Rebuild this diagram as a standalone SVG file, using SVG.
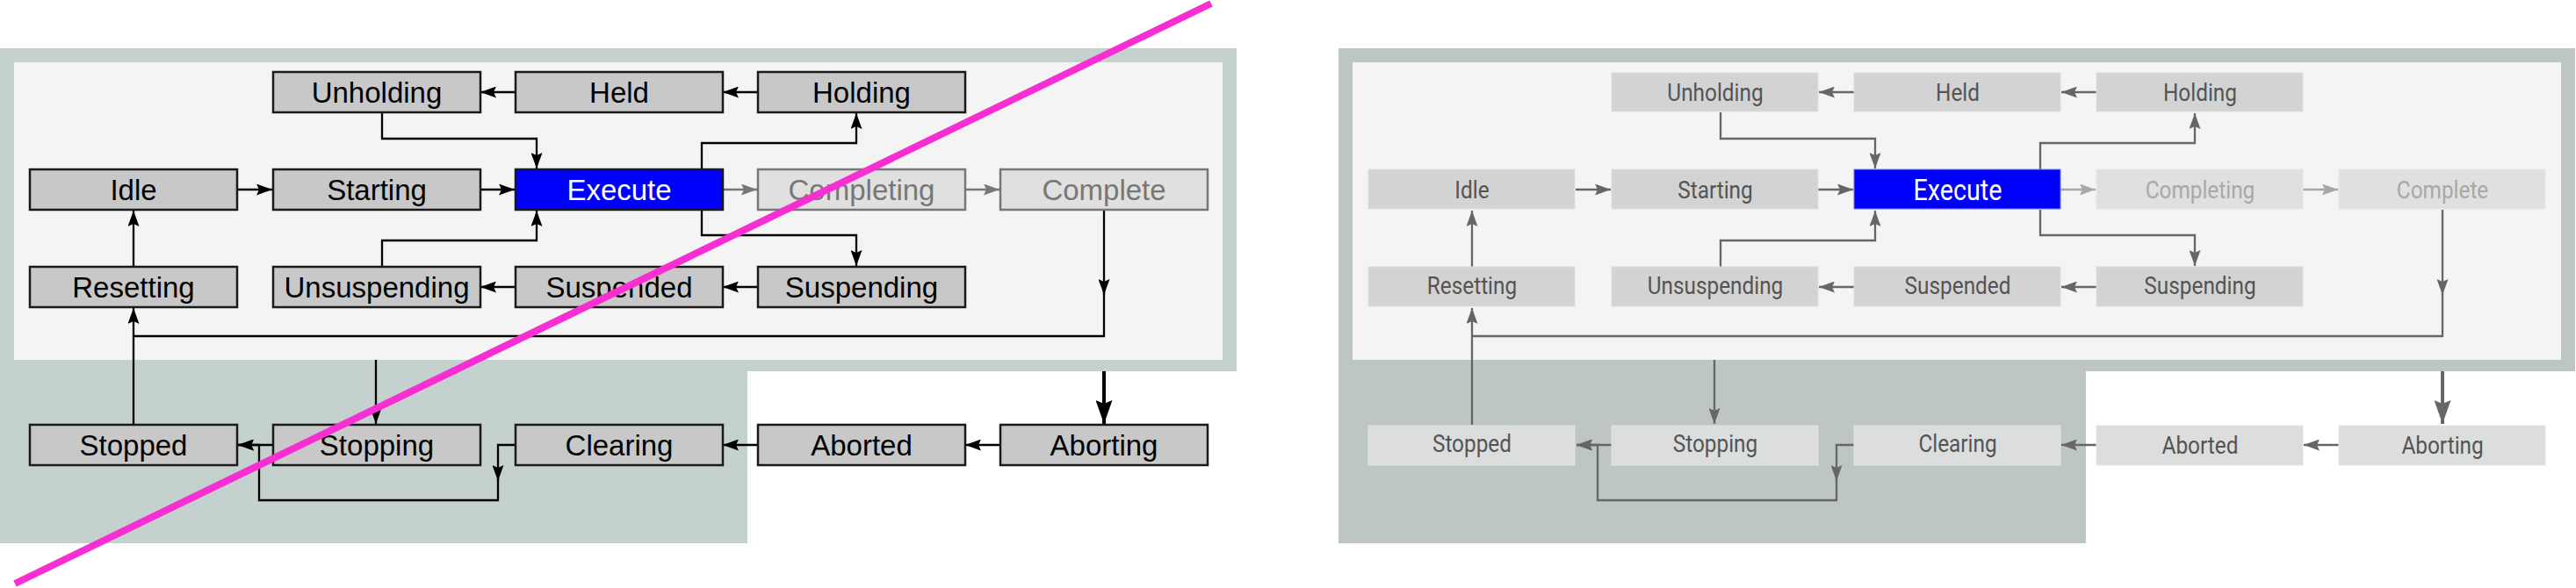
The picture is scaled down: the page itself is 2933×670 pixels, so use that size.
<svg xmlns="http://www.w3.org/2000/svg" width="2933" height="670" viewBox="0 0 2933 670">
<style>
.lb{fill:#c8c8c8;stroke:#1a1a1a;stroke-width:2.5}
.lg{fill:#e0e0e0;stroke:#777;stroke-width:2.5}
.lx{fill:#0000ff;stroke:#1a1a1a;stroke-width:2.5}
.lt{font-family:"Liberation Sans",Arial,sans-serif;font-size:33px;text-anchor:middle;fill:#000}
.ltg{fill:#777}
.ltx{fill:#fff}
.rb{fill:#d3d3d3;stroke:#dedede;stroke-width:1}
.rb2{fill:#dcdddd;stroke:#e4e4e4;stroke-width:1}
.rg{fill:#e0e0e0;stroke:#e6e6e6;stroke-width:1}
.rx{fill:#0000ff;stroke:#7777ff;stroke-width:1}
.rt{font-family:Roboto,"Noto Sans",sans-serif;font-size:28px;text-anchor:middle;fill:#545454}
.rtg{fill:#a8a8a8}
.rtx{fill:#fff;font-size:33px}
.cl{fill:none;stroke:#000;stroke-width:2.3}
.clg{fill:none;stroke:#777;stroke-width:2.3}
.clt{fill:none;stroke:#000;stroke-width:4}
.cr{fill:none;stroke:#666;stroke-width:2.3}
.crg{fill:none;stroke:#a8a8a8;stroke-width:2.3}
.crt{fill:none;stroke:#666;stroke-width:4}
</style>
<defs>
<marker id="ak" markerUnits="userSpaceOnUse" markerWidth="18" markerHeight="13" refX="18" refY="6.5" orient="auto"><path d="M0,0 L18,6.5 L0,13 L3,6.5 Z" fill="#000"/></marker>
<marker id="akg" markerUnits="userSpaceOnUse" markerWidth="18" markerHeight="13" refX="18" refY="6.5" orient="auto"><path d="M0,0 L18,6.5 L0,13 L3,6.5 Z" fill="#777"/></marker>
<marker id="akt" markerUnits="userSpaceOnUse" markerWidth="27" markerHeight="19" refX="27" refY="9.5" orient="auto"><path d="M0,0 L27,9.5 L0,19 L4,9.5 Z" fill="#000"/></marker>
<marker id="ar" markerUnits="userSpaceOnUse" markerWidth="18" markerHeight="13" refX="18" refY="6.5" orient="auto"><path d="M0,0 L18,6.5 L0,13 L3,6.5 Z" fill="#666"/></marker>
<marker id="arg" markerUnits="userSpaceOnUse" markerWidth="18" markerHeight="13" refX="18" refY="6.5" orient="auto"><path d="M0,0 L18,6.5 L0,13 L3,6.5 Z" fill="#a8a8a8"/></marker>
<marker id="art" markerUnits="userSpaceOnUse" markerWidth="27" markerHeight="19" refX="27" refY="9.5" orient="auto"><path d="M0,0 L27,9.5 L0,19 L4,9.5 Z" fill="#666"/></marker>
</defs>
<rect width="2933" height="670" fill="#fff"/>

<!-- LEFT DIAGRAM -->
<g id="left-background">
<path d="M0,55 H1408 V423 H851 V619 H0 Z" fill="#c5d1ce"/>
<rect x="16" y="71" width="1376" height="339" fill="#f4f4f4"/>
</g>
<g id="left-connectors">
<path class="cl" d="M587,105 H547" marker-end="url(#ak)"/>
<path class="cl" d="M863,105 H823" marker-end="url(#ak)"/>
<path class="cl" d="M435,128 V158 H611 V192" marker-end="url(#ak)"/>
<path class="cl" d="M435,304 V274 H611 V240" marker-end="url(#ak)"/>
<path class="cl" d="M799,193 V163 H975 V129" marker-end="url(#ak)"/>
<path class="cl" d="M799,239 V268 H975 V303" marker-end="url(#ak)"/>
<path class="cl" d="M270,216 H310" marker-end="url(#ak)"/>
<path class="cl" d="M546,216 H586" marker-end="url(#ak)"/>
<path class="clg" d="M822,216 H862" marker-end="url(#akg)"/>
<path class="clg" d="M1098,216 H1138" marker-end="url(#akg)"/>
<path class="cl" d="M863,327 H823" marker-end="url(#ak)"/>
<path class="cl" d="M587,327 H547" marker-end="url(#ak)"/>
<path class="cl" d="M152,304 V240" marker-end="url(#ak)"/>
<path class="cl" d="M1257,239 V336" marker-end="url(#ak)"/>
<path class="cl" d="M1257,325 V383 H152"/>
<path class="cl" d="M152,484 V351" marker-end="url(#ak)"/>
<path class="cl" d="M428,410 V483" marker-end="url(#ak)"/>
<path class="clt" d="M1257,423 V483" marker-end="url(#akt)"/>
<path class="cl" d="M1139,507 H1099" marker-end="url(#ak)"/>
<path class="cl" d="M863,507 H823" marker-end="url(#ak)"/>
<path class="cl" d="M311,507 H271" marker-end="url(#ak)"/>
<path class="cl" d="M587,507 H567 V548" marker-end="url(#ak)"/>
<path class="cl" d="M567,540 V570 H295 V507 H271" marker-end="url(#ak)"/>
</g>
<g id="l-unholding"><rect class="lb" x="311" y="82" width="236" height="46"/><text class="lt" x="429" y="117">Unholding</text></g>
<g id="l-held"><rect class="lb" x="587" y="82" width="236" height="46"/><text class="lt" x="705" y="117">Held</text></g>
<g id="l-holding"><rect class="lb" x="863" y="82" width="236" height="46"/><text class="lt" x="981" y="117">Holding</text></g>
<g id="l-idle"><rect class="lb" x="34" y="193" width="236" height="46"/><text class="lt" x="152" y="228">Idle</text></g>
<g id="l-starting"><rect class="lb" x="311" y="193" width="236" height="46"/><text class="lt" x="429" y="228">Starting</text></g>
<g id="l-execute"><rect class="lx" x="587" y="193" width="236" height="46"/><text class="lt ltx" x="705" y="228">Execute</text></g>
<g id="l-completing"><rect class="lg" x="863" y="193" width="236" height="46"/><text class="lt ltg" x="981" y="228">Completing</text></g>
<g id="l-complete"><rect class="lg" x="1139" y="193" width="236" height="46"/><text class="lt ltg" x="1257" y="228">Complete</text></g>
<g id="l-resetting"><rect class="lb" x="34" y="304" width="236" height="46"/><text class="lt" x="152" y="339">Resetting</text></g>
<g id="l-unsuspending"><rect class="lb" x="311" y="304" width="236" height="46"/><text class="lt" x="429" y="339">Unsuspending</text></g>
<g id="l-suspended"><rect class="lb" x="587" y="304" width="236" height="46"/><text class="lt" x="705" y="339">Suspended</text></g>
<g id="l-suspending"><rect class="lb" x="863" y="304" width="236" height="46"/><text class="lt" x="981" y="339">Suspending</text></g>
<g id="l-stopped"><rect class="lb" x="34" y="484" width="236" height="46"/><text class="lt" x="152" y="519">Stopped</text></g>
<g id="l-stopping"><rect class="lb" x="311" y="484" width="236" height="46"/><text class="lt" x="429" y="519">Stopping</text></g>
<g id="l-clearing"><rect class="lb" x="587" y="484" width="236" height="46"/><text class="lt" x="705" y="519">Clearing</text></g>
<g id="l-aborted"><rect class="lb" x="863" y="484" width="236" height="46"/><text class="lt" x="981" y="519">Aborted</text></g>
<g id="l-aborting"><rect class="lb" x="1139" y="484" width="236" height="46"/><text class="lt" x="1257" y="519">Aborting</text></g>
<line id="strike" x1="17" y1="665" x2="1379" y2="4" stroke="#f72fd3" stroke-width="8"/>

<!-- RIGHT DIAGRAM -->
<g id="right-background">
<path d="M1524,55 H2932 V423 H2375 V619 H1524 Z" fill="#bdc6c4"/>
<rect x="1540" y="71" width="1376" height="339" fill="#f3f4f3"/>
</g>
<g id="right-connectors">
<path class="cr" d="M2111,105 H2071" marker-end="url(#ar)"/>
<path class="cr" d="M2387,105 H2347" marker-end="url(#ar)"/>
<path class="cr" d="M1959,128 V158 H2135 V192" marker-end="url(#ar)"/>
<path class="cr" d="M1959,304 V274 H2135 V240" marker-end="url(#ar)"/>
<path class="cr" d="M2323,193 V163 H2499 V129" marker-end="url(#ar)"/>
<path class="cr" d="M2323,239 V268 H2499 V303" marker-end="url(#ar)"/>
<path class="cr" d="M1794,216 H1834" marker-end="url(#ar)"/>
<path class="cr" d="M2070,216 H2110" marker-end="url(#ar)"/>
<path class="crg" d="M2346,216 H2386" marker-end="url(#arg)"/>
<path class="crg" d="M2622,216 H2662" marker-end="url(#arg)"/>
<path class="cr" d="M2387,327 H2347" marker-end="url(#ar)"/>
<path class="cr" d="M2111,327 H2071" marker-end="url(#ar)"/>
<path class="cr" d="M1676,304 V240" marker-end="url(#ar)"/>
<path class="cr" d="M2781,239 V336" marker-end="url(#ar)"/>
<path class="cr" d="M2781,325 V383 H1676"/>
<path class="cr" d="M1676,484 V351" marker-end="url(#ar)"/>
<path class="cr" d="M1952,410 V483" marker-end="url(#ar)"/>
<path class="crt" d="M2781,423 V483" marker-end="url(#art)"/>
<path class="cr" d="M2663,507 H2623" marker-end="url(#ar)"/>
<path class="cr" d="M2387,507 H2347" marker-end="url(#ar)"/>
<path class="cr" d="M1835,507 H1795" marker-end="url(#ar)"/>
<path class="cr" d="M2111,507 H2091 V548" marker-end="url(#ar)"/>
<path class="cr" d="M2091,540 V570 H1819 V507 H1795" marker-end="url(#ar)"/>
</g>
<g id="r-unholding"><rect class="rb" x="1835" y="83" width="235" height="44"/><text class="rt" transform="scale(0.87 1)" x="2244.8" y="115">Unholding</text></g>
<g id="r-held"><rect class="rb" x="2111" y="83" width="235" height="44"/><text class="rt" transform="scale(0.87 1)" x="2562.1" y="115">Held</text></g>
<g id="r-holding"><rect class="rb" x="2387" y="83" width="235" height="44"/><text class="rt" transform="scale(0.87 1)" x="2879.3" y="115">Holding</text></g>
<g id="r-idle"><rect class="rb" x="1558" y="193" width="235" height="45"/><text class="rt" transform="scale(0.87 1)" x="1926.4" y="226">Idle</text></g>
<g id="r-starting"><rect class="rb" x="1835" y="193" width="235" height="45"/><text class="rt" transform="scale(0.87 1)" x="2244.8" y="226">Starting</text></g>
<g id="r-execute"><rect class="rx" x="2111" y="193" width="235" height="45"/><text class="rt rtx" transform="scale(0.87 1)" x="2562.1" y="228">Execute</text></g>
<g id="r-completing"><rect class="rg" x="2387" y="193" width="235" height="45"/><text class="rt rtg" transform="scale(0.87 1)" x="2879.3" y="226">Completing</text></g>
<g id="r-complete"><rect class="rg" x="2663" y="193" width="235" height="45"/><text class="rt rtg" transform="scale(0.87 1)" x="3196.6" y="226">Complete</text></g>
<g id="r-resetting"><rect class="rb" x="1558" y="304" width="235" height="45"/><text class="rt" transform="scale(0.87 1)" x="1926.4" y="335">Resetting</text></g>
<g id="r-unsuspending"><rect class="rb" x="1835" y="304" width="235" height="45"/><text class="rt" transform="scale(0.87 1)" x="2244.8" y="335">Unsuspending</text></g>
<g id="r-suspended"><rect class="rb" x="2111" y="304" width="235" height="45"/><text class="rt" transform="scale(0.87 1)" x="2562.1" y="335">Suspended</text></g>
<g id="r-suspending"><rect class="rb" x="2387" y="304" width="235" height="45"/><text class="rt" transform="scale(0.87 1)" x="2879.3" y="335">Suspending</text></g>
<g id="r-stopped"><rect class="rb2" x="1558" y="485" width="235" height="45"/><text class="rt" transform="scale(0.87 1)" x="1926.4" y="515">Stopped</text></g>
<g id="r-stopping"><rect class="rb2" x="1835" y="485" width="235" height="45"/><text class="rt" transform="scale(0.87 1)" x="2244.8" y="515">Stopping</text></g>
<g id="r-clearing"><rect class="rb2" x="2111" y="485" width="235" height="45"/><text class="rt" transform="scale(0.87 1)" x="2562.1" y="515">Clearing</text></g>
<g id="r-aborted"><rect class="rb2" x="2387" y="485" width="235" height="45"/><text class="rt" transform="scale(0.87 1)" x="2879.3" y="517">Aborted</text></g>
<g id="r-aborting"><rect class="rb2" x="2663" y="485" width="235" height="45"/><text class="rt" transform="scale(0.87 1)" x="3196.6" y="517">Aborting</text></g>
</svg>
